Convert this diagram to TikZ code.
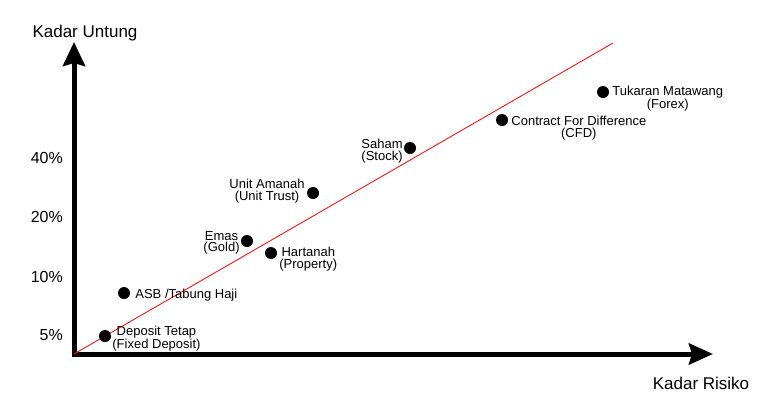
\documentclass[tikz,border=0pt]{standalone}
\usepackage{fontspec}
\setmainfont{Liberation Sans}
\usetikzlibrary{arrows.meta,positioning}

\begin{document}
\begin{tikzpicture}[x=1pt, y=-1pt,
    dot/.style={circle, fill=black, minimum size=12pt, inner sep=0pt},
    lbl/.style={inner sep=0pt, align=center, font=\fontsize{13}{11.5}\selectfont},
    axlbl/.style={inner sep=0pt, font=\fontsize{17}{19}\selectfont},
    ticklbl/.style={inner sep=0pt, font=\fontsize{16}{18}\selectfont},
    axis/.style={line width=5pt, {Stealth[length=24pt, width=22pt, inset=3pt]}-{Stealth[length=24pt, width=21pt, inset=3pt]}},
    trend/.style={red!90!pink, line width=0.9pt}]
        \useasboundingbox (0,0) rectangle (770,400);

        % Axes
        \coordinate (o) at (74,354);
        \coordinate (ytip) at (74,42);
        \coordinate (xtip) at (713,354);
        \draw[axis] (ytip) -- (o) -- (xtip);
        \node[axlbl] (ylabel) at (85,33) {Kadar Untung};
        \node[axlbl] (xlabel) at (701,383) {Kadar Risiko};

        % Ticks on the profit axis
        \foreach \y/\pct/\n in {158/40\%/a, 217/20\%/b, 277/10\%/c, 335/5\%/d} {
            \node[ticklbl, anchor=east] (t\n) at (63,\y) {\pct};
        }

        % Trend line
        \coordinate (rtop) at (613,43);
        \draw[trend] (o) -- (rtop);

        % Investments
        \node[dot] (fd) at (105,336) {};
        \node[lbl, right=1pt of fd, yshift=-3pt] (fd_txt) {Deposit Tetap\\(Fixed Deposit)};

        \node[dot] (asb) at (124,293) {};
        \node[lbl, right=5pt of asb, yshift=-2pt] (asb_txt) {ASB /Tabung Haji};

        \node[dot] (emas) at (247,241) {};
        \node[lbl, left=1pt of emas, yshift=-2pt] (emas_txt) {Emas\\(Gold)};

        \node[dot] (hart) at (271,253) {};
        \node[lbl, right=2pt of hart, yshift=-6pt] (hart_txt) {Hartanah\\(Property)};

        \node[dot] (ua) at (313,193) {};
        \node[lbl, left=2pt of ua, yshift=2pt] (ua_txt) {Unit Amanah\\(Unit Trust)};

        \node[dot] (saham) at (410,148) {};
        \node[lbl, left=1pt of saham, yshift=-3pt] (saham_txt) {Saham\\(Stock)};

        \node[dot] (cfd) at (502,120) {};
        \node[lbl, right=3pt of cfd, yshift=-8pt] (cfd_txt) {Contract For Difference\\(CFD)};

        \node[dot] (fx) at (603,92) {};
        \node[lbl, right=3pt of fx, yshift=-7pt] (fx_txt) {Tukaran Matawang\\(Forex)};
    \end{tikzpicture}
\end{document}
